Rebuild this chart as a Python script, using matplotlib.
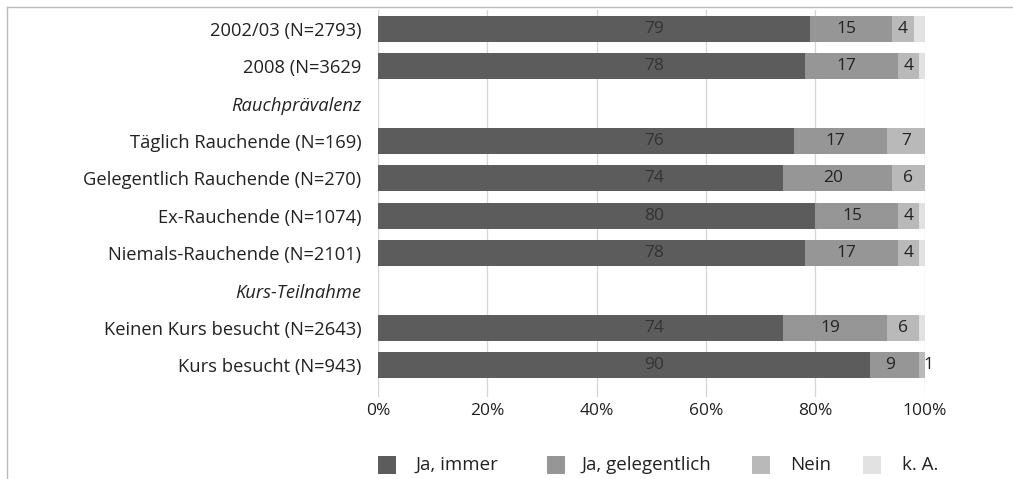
import numpy as np
import matplotlib.pyplot as plt
from matplotlib.patches import Rectangle
from matplotlib.lines import Line2D

plt.rcParams['font.family'] = ['Open Sans', 'DejaVu Sans']

# === Data ===
categories = ["2002/03 (N=2793)", "2008 (N=3629", "Rauchprävalenz",
              "Täglich Rauchende (N=169)", "Gelegentlich Rauchende (N=270)",
              "Ex-Rauchende (N=1074)", "Niemals-Rauchende (N=2101)",
              "Kurs-Teilnahme", "Keinen Kurs besucht (N=2643)",
              "Kurs besucht (N=943)"]
is_header = [False, False, True, False, False, False, False, True, False, False]

ja_immer = [79, 78, 0, 76, 74, 80, 78, 0, 74, 90]
ja_gelegentlich = [15, 17, 0, 17, 20, 15, 17, 0, 19, 9]
nein = [4, 4, 0, 7, 6, 4, 4, 0, 6, 1]
k_a = [2, 1, 0, 0, 0, 1, 1, 0, 1, 0]

series_names = ["Ja, immer", "Ja, gelegentlich", "Nein", "k. A."]
colors = ["#5c5c5c", "#969696", "#b9b9b9", "#e2e2e2"]
xticks = [0, 20, 40, 60, 80, 100]

FS = 12.5       # values, x ticks
FS_CAT = 13.2   # category labels
FS_LEG = 13.5   # legend
W, H = 1013, 479

# === Plot ===
fig = plt.figure(figsize=(W / 100, H / 100), dpi=100)
ax = fig.add_axes([0.373, 0.171, 0.540, 0.808])

y = np.arange(len(categories))
series = [ja_immer, ja_gelegentlich, nein, k_a]
left = np.zeros(len(categories))
for vals, col, name in zip(series, colors, series_names):
    vals = np.array(vals, dtype=float)
    ax.barh(y, vals, left=left, height=0.7, color=col, label=name, zorder=2)
    left += vals

# value labels
for i in range(len(categories)):
    if is_header[i]:
        continue
    # first series labels sit around the middle of the axis
    ax.text(50.5, y[i], str(ja_immer[i]), ha="center", va="center",
            fontsize=FS, color="#333333", zorder=3)
    start = ja_immer[i]
    ax.text(start + ja_gelegentlich[i] / 2 - 0.8, y[i], str(ja_gelegentlich[i]),
            ha="center", va="center", fontsize=FS, color="#222222", zorder=3)
    start += ja_gelegentlich[i]
    if nein[i] > 0:
        xpos = start + nein[i] / 2 if nein[i] >= 2 else start + nein[i] + 0.6
        ax.text(xpos, y[i], str(nein[i]), ha="center", va="center",
                fontsize=FS, color="#222222", zorder=3)

ax.set_xlim(0, 100)
ax.set_ylim(9.85, -0.5)
ax.set_xticks(xticks)
ax.set_xticklabels([f"{t}%" for t in xticks], fontsize=FS, color="#222222")
ax.set_yticks(y)
ax.set_yticklabels(categories, fontsize=FS_CAT, color="#222222")
for lab, hdr in zip(ax.get_yticklabels(), is_header):
    if hdr:
        lab.set_style("italic")
ax.tick_params(axis="both", length=0)
ax.tick_params(axis="y", pad=12)
ax.tick_params(axis="x", pad=4)
ax.grid(axis="x", color="#d4d4d4", linewidth=0.9, zorder=0)
for s in ax.spines.values():
    s.set_visible(False)

# frame around chart
fig.add_artist(Line2D([0.007, 1.0], [0.985, 0.985], color="#bbbbbb", lw=1,
                      transform=fig.transFigure))
fig.add_artist(Line2D([0.007, 0.007], [0.0, 0.985], color="#bbbbbb", lw=1,
                      transform=fig.transFigure))

# legend, laid out by hand like the original
leg_box_x = [378, 547, 752, 863]
leg_text_x = [415, 582, 790, 902]
leg_y = 465
for bx, tx, col, name in zip(leg_box_x, leg_text_x, colors, series_names):
    fig.add_artist(Rectangle((bx / W, (H - leg_y - 9) / H), 18 / W, 18 / H,
                             facecolor=col, edgecolor="none",
                             transform=fig.transFigure))
    fig.text(tx / W, (H - leg_y) / H, name, ha="left", va="center",
             fontsize=FS_LEG, color="#222222")

fig.savefig("out.png", dpi=100)
